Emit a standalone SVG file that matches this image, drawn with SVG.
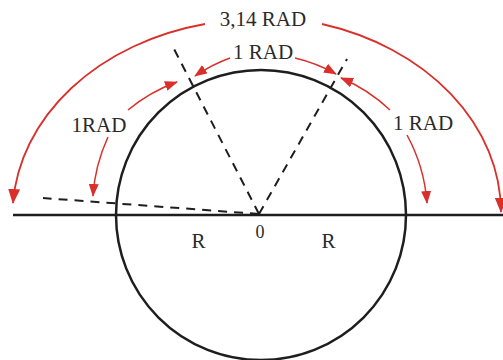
<svg xmlns="http://www.w3.org/2000/svg" width="503" height="360" viewBox="0 0 503 360">
<style>
.ln{fill:none;stroke:#1e1e1e;stroke-width:2.5}
.dash{fill:none;stroke:#1e1e1e;stroke-width:2;stroke-dasharray:9 7}
.red{fill:none;stroke:#d9302b;stroke-width:1.5}
.redb{fill:none;stroke:#d9302b;stroke-width:1.8}
.t{font-family:"Liberation Serif","DejaVu Serif",serif;font-size:21px;fill:#2a2a2a;text-anchor:middle}
</style>
<defs>
<marker id="ah" viewBox="0 0 13 10" refX="12" refY="5" markerWidth="13" markerHeight="10" markerUnits="userSpaceOnUse" orient="auto">
<path d="M0,0 L13,5 L0,10 z" fill="#d9302b"/>
</marker>
<marker id="ahb" viewBox="0 0 15 12" refX="14" refY="6" markerWidth="15" markerHeight="12" markerUnits="userSpaceOnUse" orient="auto">
<path d="M0,0 L15,6 L0,12 z" fill="#d9302b"/>
</marker>
</defs>
<rect width="503" height="360" fill="#fff"/>
<g id="circle">
<circle class="ln" cx="261" cy="215" r="145"/>
</g>
<g id="axis">
<line class="ln" x1="13" y1="215" x2="503" y2="215"/>
</g>
<g id="radii">
<line class="dash" x1="259" y1="214" x2="43" y2="198"/>
<line class="dash" x1="259" y1="214" x2="173" y2="47"/>
<line class="dash" x1="259" y1="214" x2="347" y2="59"/>
</g>
<g id="connectors">
<path class="redb" d="M205,24 A246,196 0 0,0 13,203" marker-end="url(#ahb)"/>
<path class="redb" d="M322,24 A246,196 0 0,1 501,212" marker-end="url(#ahb)"/>
<path class="red" d="M108,137 A165,165 0 0,0 93,196" marker-end="url(#ah)"/>
<path class="red" d="M128,110 A162,162 0 0,1 177,82" marker-end="url(#ah)"/>
<path class="red" d="M230,58 A158,158 0 0,0 195,76" marker-end="url(#ah)"/>
<path class="red" d="M295,58 A158,158 0 0,1 336,74" marker-end="url(#ah)"/>
<path class="red" d="M390,110 A164,164 0 0,0 341,78" marker-end="url(#ah)"/>
<path class="red" d="M407,135 A168,168 0 0,1 427,203" marker-end="url(#ah)"/>
</g>
<g id="labels">
<text class="t" x="263" y="26">3,14 RAD</text>
<text class="t" x="263" y="59">1 RAD</text>
<text class="t" x="99" y="132">1RAD</text>
<text class="t" x="423" y="130">1 RAD</text>
<text class="t" x="198.5" y="248">R</text>
<text class="t" x="260" y="238" style="font-size:18px">0</text>
<text class="t" x="328.5" y="248">R</text>
</g>
</svg>
